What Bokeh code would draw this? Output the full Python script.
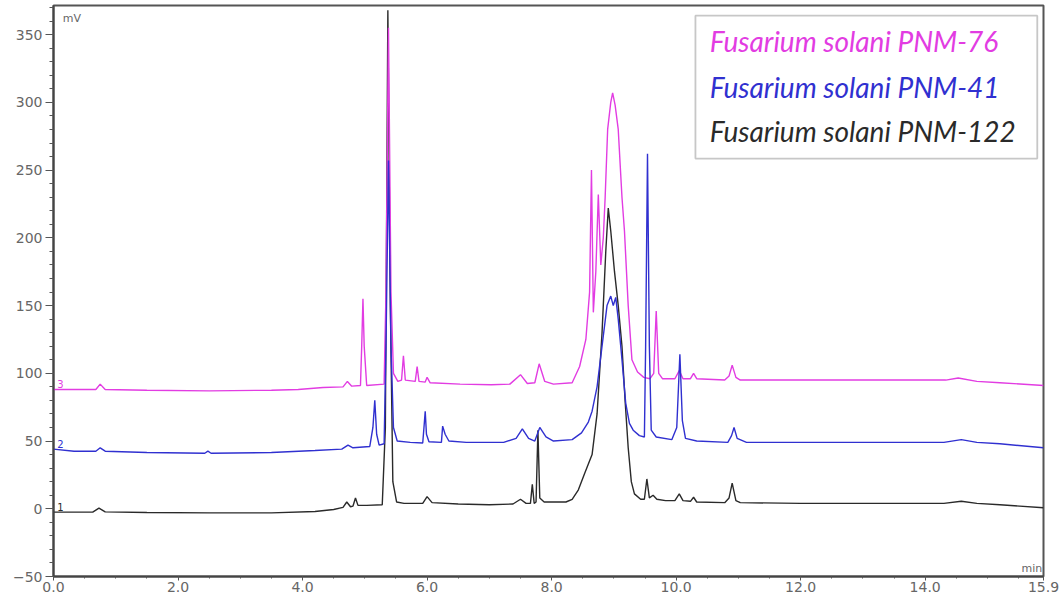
from bokeh.plotting import figure
from bokeh.models import Range1d, FixedTicker, NumeralTickFormatter, Label, BoxAnnotation
from bokeh.embed import file_html
from bokeh.resources import INLINE

# ---- data (time in min, signal in mV) ----
t_122 = [0.0, 0.63, 0.73, 0.83, 1.5, 2.5, 3.5, 4.2, 4.5, 4.65, 4.71, 4.77, 4.81, 4.85, 4.89, 5.03,
         5.28, 5.33, 5.37, 5.41, 5.45, 5.51, 5.63, 5.93, 6.0, 6.08, 6.5, 7.0, 7.38, 7.5, 7.59, 7.66,
         7.69, 7.72, 7.75, 7.78, 7.81, 7.88, 8.23, 8.33, 8.43, 8.53, 8.59, 8.65, 8.73, 8.81, 8.87, 8.91,
         8.95, 9.01, 9.07, 9.13, 9.18, 9.23, 9.28, 9.33, 9.43, 9.49, 9.53, 9.57, 9.63, 9.69, 9.83, 9.98,
         10.05, 10.11, 10.23, 10.28, 10.33, 10.78, 10.85, 10.9, 10.96, 11.03, 12.0, 13.0, 14.3, 14.58,
         14.83, 15.2, 15.9]
v_122 = [-2.5, -2.5, 0.5, -2.3, -2.8, -3.0, -3.0, -2.0, -0.5, 1.0, 5, 1.5, 2, 8, 2.5, 2.5,
         3, 60, 368, 150, 20, 5, 4, 4, 9, 4.5, 3.5, 3, 3.5, 7, 4, 4,
         18, 4, 5, 58, 8, 5, 5, 7, 14, 26, 33, 40, 70, 130, 190, 222,
         205, 175, 150, 120, 80, 45, 20, 11, 7, 7, 22, 8, 10, 7, 6, 6,
         11, 6, 5.5, 8.5, 5, 4.5, 8, 19, 6, 4.5, 4, 4, 4, 5.5,
         4, 3, 0.7]

t_41 = [0.0, 0.33, 0.68, 0.75, 0.83, 1.5, 2.43, 2.48, 2.53, 3.5, 4.2, 4.63, 4.73, 4.81, 5.08, 5.13,
        5.16, 5.19, 5.23, 5.31, 5.34, 5.38, 5.42, 5.46, 5.52, 5.73, 5.93, 5.95, 5.97, 5.99, 6.03, 6.23,
        6.25, 6.29, 6.35, 6.63, 7.23, 7.43, 7.53, 7.63, 7.73, 7.81, 7.91, 8.03, 8.33, 8.48, 8.59, 8.65,
        8.73, 8.81, 8.89, 8.95, 8.99, 9.03, 9.07, 9.13, 9.19, 9.25, 9.31, 9.41, 9.49, 9.51, 9.54, 9.57,
        9.6, 9.68, 9.93, 10.01, 10.06, 10.1, 10.15, 10.33, 10.83, 10.89, 10.93, 10.98, 11.13, 12.5, 14.3,
        14.58, 14.83, 15.2, 15.9]
v_41 = [44, 42.5, 42.5, 45, 42.5, 41.5, 41, 42.5, 41, 41.5, 43, 44, 47, 45, 46, 60,
        80, 55, 47, 48, 120, 257, 120, 60, 50, 49, 48.5, 60, 72, 55, 49.5, 49,
        61, 55, 50, 49, 49, 52, 59, 52, 50, 60, 53, 50, 51, 56, 64, 72,
        90, 120, 150, 157, 150, 156, 140, 110, 78, 63, 58, 54, 53, 120, 262, 120,
        58, 53, 51, 60, 114, 65, 52, 50, 49, 54, 60, 52, 49, 49, 49,
        51, 49, 48, 45]

t_76 = [0.0, 0.68, 0.75, 0.83, 1.5, 2.5, 3.5, 3.93, 4.33, 4.65, 4.72, 4.79, 4.93, 4.95, 4.97, 4.99,
        5.03, 5.31, 5.34, 5.38, 5.42, 5.46, 5.53, 5.59, 5.62, 5.65, 5.81, 5.84, 5.87, 5.97, 6.0, 6.05,
        6.53, 7.03, 7.33, 7.5, 7.61, 7.73, 7.8, 7.89, 8.03, 8.33, 8.45, 8.55, 8.61, 8.64, 8.67, 8.71,
        8.75, 8.79, 8.83, 8.86, 8.9, 8.95, 8.98, 9.02, 9.07, 9.13, 9.17, 9.23, 9.29, 9.38, 9.48, 9.58,
        9.64, 9.68, 9.72, 9.78, 9.98, 10.05, 10.11, 10.23, 10.28, 10.33, 10.78, 10.85, 10.9, 10.96,
        11.03, 12.5, 14.33, 14.53, 14.83, 15.2, 15.9]
v_76 = [88, 88, 92, 88, 87.5, 87, 87.5, 88, 89.5, 90, 94, 90.5, 91, 120, 155, 120,
        91, 92, 160, 355, 160, 100, 94, 95, 113, 95, 94, 105, 94, 93.5, 97, 93,
        92, 91.5, 92, 99, 92.5, 93, 107, 94, 92, 93, 105, 125, 160, 250, 145, 175,
        232, 180, 200, 230, 280, 300, 307, 298, 280, 230, 205, 150, 110, 101, 97, 96,
        100, 146, 100, 96, 96, 102, 96, 96, 100, 96, 95, 98, 106, 97,
        95, 95, 95, 96.5, 94, 93, 91]

legend_names = ["Fusarium solani PNM-76", "Fusarium solani PNM-41", "Fusarium solani PNM-122"]
trace_ids = ["3", "2", "1"]
x_ticks = [0, 2, 4, 6, 8, 10, 12, 14, 15.9]
y_ticks = [-50, 0, 50, 100, 150, 200, 250, 300, 350]

C_PINK = "#e23ce2"
C_BLUE = "#3030d0"
C_BLACK = "#2a2a2a"

p = figure(width=1064, height=596, output_backend="svg", toolbar_location=None,
           x_range=Range1d(0, 15.9), y_range=Range1d(-50, 371.5),
           min_border_left=53, min_border_right=21, min_border_top=5, min_border_bottom=20)
p.grid.visible = False
p.background_fill_color = "white"
p.border_fill_color = "white"
p.outline_line_color = "#555555"
p.outline_line_width = 2

# traces
p.line(t_122, v_122, line_color=C_BLACK, line_width=1.4)
p.line(t_76, v_76, line_color=C_PINK, line_width=1.4)
p.line(t_41, v_41, line_color=C_BLUE, line_width=1.4)

# axes
p.xaxis.ticker = FixedTicker(ticks=x_ticks, minor_ticks=[i * 0.5 for i in range(32)])
p.xaxis.formatter = NumeralTickFormatter(format="0.0")
p.yaxis.ticker = FixedTicker(ticks=y_ticks, minor_ticks=list(range(-50, 371, 10)))
for ax in (p.xaxis, p.yaxis):
    ax.axis_line_color = "#444444"
    ax.axis_line_width = 2
    ax.major_tick_line_color = "#555555"
    ax.minor_tick_line_color = "#555555"
    ax.major_label_text_font = "DejaVu Sans"
    ax.major_label_text_font_size = "14px"
    ax.major_label_text_color = "#666666"
p.yaxis.major_tick_out = 8
p.yaxis.major_tick_in = 0
p.yaxis.minor_tick_out = 4
p.yaxis.minor_tick_in = 0
p.yaxis.major_label_standoff = 3
p.xaxis.major_tick_out = 4
p.xaxis.major_tick_in = 0
p.xaxis.minor_tick_out = 2
p.xaxis.minor_tick_in = 0
p.xaxis.major_label_standoff = 1

# unit labels
p.add_layout(Label(x=0.15, y=357, text="mV", text_font="DejaVu Sans", text_font_size="11px",
                   text_color="#666666"))
p.add_layout(Label(x=15.88, y=-49, text="min", text_font="DejaVu Sans", text_font_size="11px",
                   text_color="#666666", text_align="right"))

# trace id labels
for tid, yv, col in zip(trace_ids, [v_76[0], v_41[0], v_122[0]], [C_PINK, C_BLUE, C_BLACK]):
    p.add_layout(Label(x=0.06, y=yv + 1, text=tid, text_font="DejaVu Sans", text_font_size="10px",
                       text_color=col))

# legend box
p.add_layout(BoxAnnotation(left=10.31, right=15.80, top=364, bottom=258.5,
                           fill_color="white", fill_alpha=1.0, line_color="#444444", line_width=1.8))
for name, yv, col in zip(legend_names, [345.5, 311.5, 278.5], [C_PINK, C_BLUE, C_BLACK]):
    p.add_layout(Label(x=10.54, y=yv, text=name, text_font="Lato", text_font_style="italic",
                       text_font_size="28px", text_color=col, text_baseline="middle"))

open("out.html", "w").write(file_html(p, INLINE))
